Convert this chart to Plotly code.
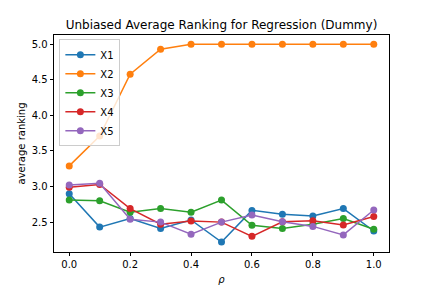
import plotly.graph_objects as go

rho = [0.0, 0.1, 0.2, 0.3, 0.4, 0.5, 0.6, 0.7, 0.8, 0.9, 1.0]
x1 = [2.90, 2.43, 2.55, 2.41, 2.53, 2.22, 2.665, 2.61, 2.585, 2.69, 2.375]
x2 = [3.29, 3.71, 4.58, 4.93, 5.0, 5.0, 5.0, 5.0, 5.0, 5.0, 5.0]
x3 = [2.81, 2.80, 2.64, 2.69, 2.64, 2.81, 2.455, 2.41, 2.47, 2.55, 2.40]
x4 = [2.99, 3.03, 2.69, 2.47, 2.515, 2.50, 2.30, 2.505, 2.52, 2.46, 2.58]
x5 = [3.02, 3.045, 2.54, 2.50, 2.33, 2.50, 2.60, 2.505, 2.44, 2.32, 2.67]
names = ["X1", "X2", "X3", "X4", "X5"]
series = [x1, x2, x3, x4, x5]
colors = ["#1f77b4", "#ff7f0e", "#2ca02c", "#d62728", "#9467bd"]
xticks = [0.0, 0.2, 0.4, 0.6, 0.8, 1.0]
yticks = [2.5, 3.0, 3.5, 4.0, 4.5, 5.0]

fig = go.Figure()
for n, s, c in zip(names, series, colors):
    fig.add_trace(go.Scatter(x=rho, y=s, name=n, mode="lines+markers",
                             line=dict(color=c, width=1.5),
                             marker=dict(color=c, size=7)))

font = dict(family="DejaVu Sans", size=10, color="black")
fig.update_layout(
    width=432, height=288,
    margin=dict(l=54, r=43, t=35, b=36, autoexpand=False),
    paper_bgcolor="white", plot_bgcolor="white",
    font=font,
    title=dict(text="Unbiased Average Ranking for Regression (Dummy)",
               x=(54 + 389) / 2 / 432, xanchor="center", y=1 - 25 / 288, yanchor="middle",
               automargin=False,
               font=dict(family="DejaVu Sans", size=12, color="black")),
    legend=dict(x=0.016, y=0.98, xanchor="left", yanchor="top",
                bgcolor="rgba(255,255,255,0.8)", bordercolor="#cccccc", borderwidth=1,
                font=dict(family="DejaVu Sans", size=10, color="black"),
                itemwidth=30, tracegroupgap=0),
    showlegend=True,
)
fig.update_xaxes(range=[-0.05, 1.05], tickvals=xticks, ticktext=[f"{v:.1f}" for v in xticks],
                 showgrid=False, zeroline=False, showline=True, linecolor="black", linewidth=0.8,
                 mirror=True, ticks="outside", ticklen=3.5, tickwidth=0.8, tickcolor="black",
                 automargin=False,
                 title=dict(text="<i>ρ</i>", standoff=6, font=font))
fig.update_yaxes(range=[2.08, 5.13], tickvals=yticks, ticktext=[f"{v:.1f}" for v in yticks],
                 showgrid=False, zeroline=False, showline=True, linecolor="black", linewidth=0.8,
                 mirror=True, ticks="outside", ticklen=3.5, tickwidth=0.8, tickcolor="black",
                 automargin=False,
                 title=dict(text="average ranking", standoff=4, font=font))

fig.write_html("out.html", config={"displayModeBar": False},
               post_script="document.body.style.margin='0';document.body.style.padding='0';")
